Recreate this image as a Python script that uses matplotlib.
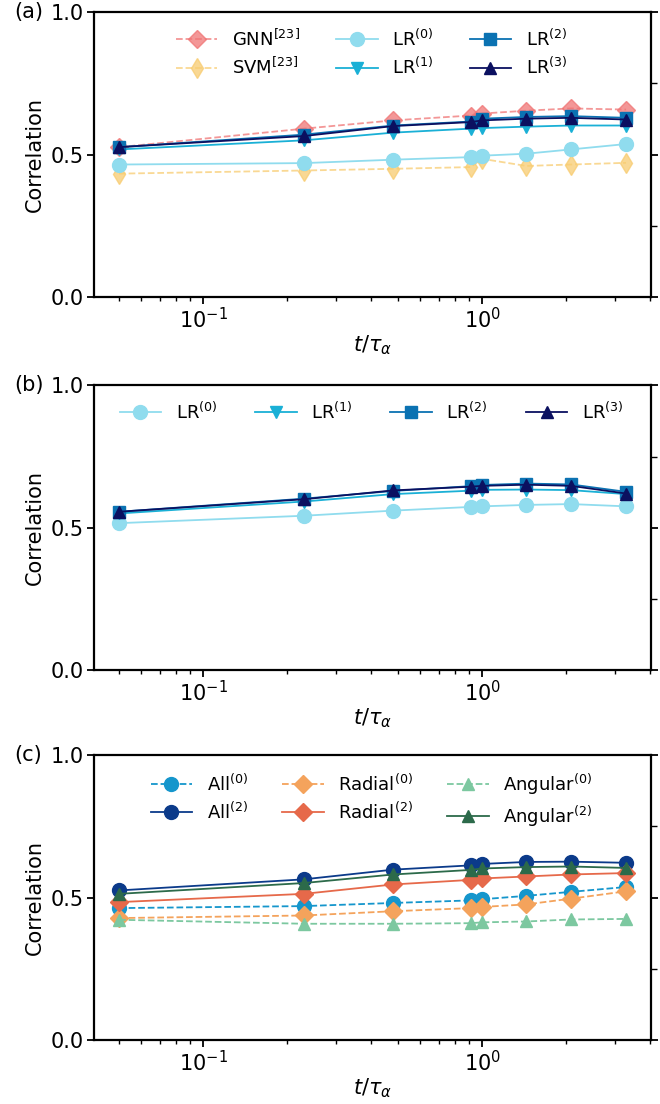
import numpy as np
import matplotlib
matplotlib.use('Agg')
import matplotlib.pyplot as plt
from matplotlib.ticker import FixedLocator

# time points t / tau_alpha
t = [0.05, 0.23, 0.48, 0.91, 1.0, 1.44, 2.08, 3.28]

# panel (a)
gnn = [0.526, 0.591, 0.620, 0.637, 0.644, 0.654, 0.662, 0.658]
svm = [0.433, 0.444, 0.450, 0.456, 0.485, 0.460, 0.465, 0.471]
lr0_a = [0.465, 0.470, 0.482, 0.491, 0.496, 0.503, 0.518, 0.537]
lr1_a = [0.518, 0.550, 0.577, 0.591, 0.593, 0.598, 0.602, 0.602]
lr2_a = [0.526, 0.570, 0.602, 0.616, 0.626, 0.632, 0.635, 0.629]
lr3_a = [0.526, 0.565, 0.600, 0.614, 0.620, 0.626, 0.629, 0.623]

# panel (b)
lr0_b = [0.516, 0.542, 0.560, 0.573, 0.575, 0.580, 0.583, 0.575]
lr1_b = [0.550, 0.592, 0.618, 0.630, 0.633, 0.634, 0.632, 0.618]
lr2_b = [0.556, 0.602, 0.629, 0.646, 0.650, 0.655, 0.652, 0.626]
lr3_b = [0.556, 0.600, 0.631, 0.644, 0.647, 0.651, 0.647, 0.620]

# panel (c)
all0 = [0.463, 0.470, 0.481, 0.490, 0.494, 0.506, 0.520, 0.537]
all2 = [0.525, 0.564, 0.598, 0.613, 0.618, 0.625, 0.626, 0.622]
rad0 = [0.428, 0.437, 0.452, 0.463, 0.467, 0.476, 0.496, 0.522]
rad2 = [0.484, 0.513, 0.546, 0.562, 0.567, 0.574, 0.581, 0.586]
ang0 = [0.422, 0.408, 0.408, 0.410, 0.413, 0.416, 0.423, 0.425]
ang2 = [0.513, 0.551, 0.581, 0.597, 0.602, 0.607, 0.609, 0.604]

FS = 15
plt.rcParams['font.family'] = ['DejaVu Sans']
plt.rcParams['mathtext.fontset'] = 'dejavusans'


def style_axes(ax, label):
    ax.set_xscale('log')
    ax.set_ylim(0, 1)
    ax.set_yticks([0.0, 0.5, 1.0])
    ax.yaxis.set_minor_locator(FixedLocator([0.25, 0.75]))
    ax.tick_params(axis='both', which='major', labelsize=FS, length=5,
                   width=1.3, pad=2)
    ax.tick_params(axis='y', which='major', right=True)
    ax.tick_params(axis='y', which='minor', left=False, right=True,
                   length=4, width=1)
    ax.tick_params(axis='x', which='minor', length=3, width=1)
    for s in ax.spines.values():
        s.set_linewidth(1.6)
    ax.set_xlabel(r'$t/\tau_{\alpha}$', fontsize=FS, labelpad=1)
    ax.set_ylabel('Correlation', fontsize=FS, labelpad=4)
    ax.text(-0.142, 1.0, label, transform=ax.transAxes, fontsize=FS,
            ha='left', va='center')


fig = plt.figure(figsize=(6.6, 11.04), dpi=100)
left, width, height = 0.142, 0.845, 0.258
ax_a = fig.add_axes([left, 0.731, width, height])
ax_b = fig.add_axes([left, 0.393, width, height])
ax_c = fig.add_axes([left, 0.058, width, height])

ms = 9
lw = 1.3
leg_kw = dict(loc='upper center', frameon=False, fontsize=13,
              handlelength=2.3, bbox_to_anchor=(0.498, 1.0))

# (a)
ax_a.plot(t, gnn, '--', color='#f07474', marker='D', ms=ms, lw=lw, alpha=0.75, label=r'GNN$^{[23]}$')
ax_a.plot(t, svm, '--', color='#f8cc70', marker='d', ms=ms + 1, lw=lw, alpha=0.75, label=r'SVM$^{[23]}$')
ax_a.plot(t, lr0_a, '-', color='#90dcee', marker='o', ms=ms + 1, lw=lw, label=r'LR$^{(0)}$')
ax_a.plot(t, lr1_a, '-', color='#1ab0d6', marker='v', ms=ms, lw=lw, label=r'LR$^{(1)}$')
ax_a.plot(t, lr2_a, '-', color='#0b72b2', marker='s', ms=ms, lw=lw, label=r'LR$^{(2)}$')
ax_a.plot(t, lr3_a, '-', color='#0b1060', marker='^', ms=ms, lw=lw, label=r'LR$^{(3)}$')
ax_a.legend(ncol=3, columnspacing=2.0, labelspacing=0.4, **leg_kw)
style_axes(ax_a, '(a)')

# (b)
ax_b.plot(t, lr0_b, '-', color='#90dcee', marker='o', ms=ms + 1, lw=lw, label=r'LR$^{(0)}$')
ax_b.plot(t, lr1_b, '-', color='#1ab0d6', marker='v', ms=ms, lw=lw, label=r'LR$^{(1)}$')
ax_b.plot(t, lr2_b, '-', color='#0b72b2', marker='s', ms=ms, lw=lw, label=r'LR$^{(2)}$')
ax_b.plot(t, lr3_b, '-', color='#0b1060', marker='^', ms=ms, lw=lw, label=r'LR$^{(3)}$')
ax_b.legend(ncol=4, columnspacing=2.1, **leg_kw)
style_axes(ax_b, '(b)')

# (c)
ax_c.plot(t, all0, '--', color='#1596cc', marker='o', ms=ms + 1, lw=lw, label=r'All$^{(0)}$')
ax_c.plot(t, all2, '-', color='#0b3a8a', marker='o', ms=ms + 1, lw=lw, label=r'All$^{(2)}$')
ax_c.plot(t, rad0, '--', color='#f4a35c', marker='D', ms=ms, lw=lw, label=r'Radial$^{(0)}$')
ax_c.plot(t, rad2, '-', color='#e6694a', marker='D', ms=ms, lw=lw, label=r'Radial$^{(2)}$')
ax_c.plot(t, ang0, '--', color='#7cc8a0', marker='^', ms=ms, lw=lw, label=r'Angular$^{(0)}$')
ax_c.plot(t, ang2, '-', color='#2c6a4a', marker='^', ms=ms, lw=lw, label=r'Angular$^{(2)}$')
ax_c.legend(ncol=3, columnspacing=1.9, labelspacing=0.4, **leg_kw)
style_axes(ax_c, '(c)')

fig.savefig('out.png', dpi=100)
